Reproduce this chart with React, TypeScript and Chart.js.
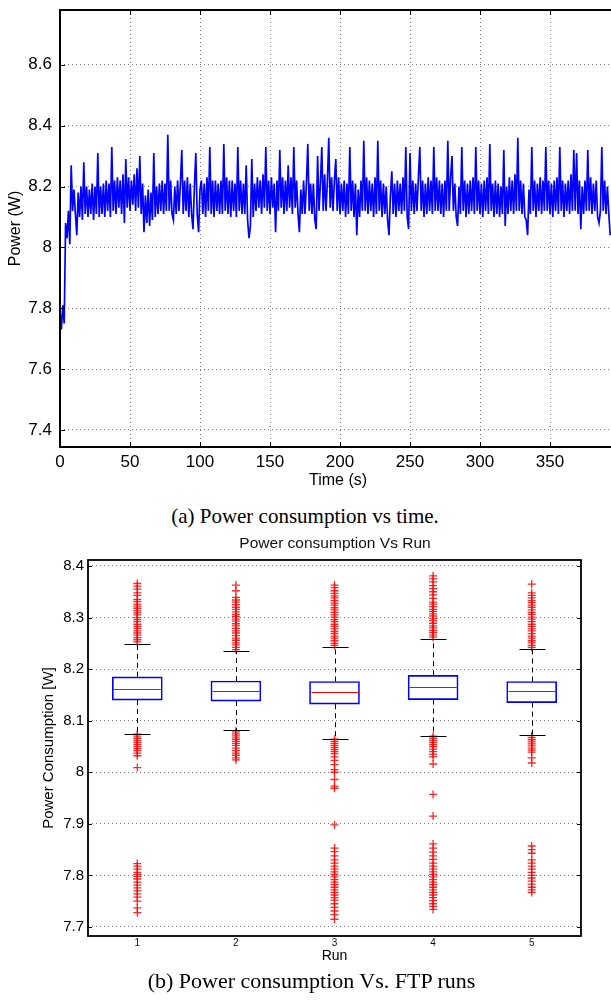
import React, { useEffect, useRef } from 'react';
import { Chart, registerables } from 'chart.js';

Chart.register(...registerables);

// ---------- (a) Power consumption vs time (1 sample per second) ----------
const TIME_STEP_S = 1;
const POWER_W = [
  7.79, 7.73, 7.81, 7.75, 8.08, 8.03, 8.12, 8.01, 8.27, 8.12,
  8.19, 8.11, 8.04, 8.18, 8.10, 8.20, 8.09, 8.28, 8.11, 8.20,
  8.10, 8.19, 8.11, 8.21, 8.09, 8.20, 8.11, 8.31, 8.10, 8.20,
  8.11, 8.21, 8.10, 8.22, 8.12, 8.21, 8.10, 8.33, 8.12, 8.22,
  8.11, 8.23, 8.13, 8.22, 8.11, 8.24, 8.08, 8.29, 8.13, 8.23,
  8.12, 8.22, 8.14, 8.24, 8.12, 8.26, 8.13, 8.30, 8.11, 8.21,
  8.05, 8.17, 8.08, 8.19, 8.07, 8.18, 8.09, 8.31, 8.10, 8.20,
  8.11, 8.21, 8.12, 8.22, 8.11, 8.21, 8.12, 8.37, 8.12, 8.22,
  8.11, 8.09, 8.20, 8.11, 8.22, 8.12, 8.21, 8.32, 8.11, 8.22,
  8.12, 8.23, 8.10, 8.21, 8.11, 8.06, 8.20, 8.31, 8.11, 8.05,
  8.19, 8.22, 8.11, 8.21, 8.10, 8.23, 8.12, 8.33, 8.11, 8.22,
  8.10, 8.22, 8.12, 8.21, 8.11, 8.22, 8.11, 8.34, 8.12, 8.23,
  8.11, 8.22, 8.10, 8.22, 8.12, 8.21, 8.10, 8.33, 8.12, 8.22,
  8.11, 8.21, 8.11, 8.27, 8.09, 8.03, 8.07, 8.29, 8.10, 8.21,
  8.12, 8.23, 8.13, 8.22, 8.11, 8.24, 8.13, 8.33, 8.12, 8.22,
  8.11, 8.23, 8.13, 8.21, 8.05, 8.22, 8.12, 8.32, 8.13, 8.23,
  8.11, 8.22, 8.12, 8.27, 8.13, 8.23, 8.11, 8.33, 8.13, 8.22,
  8.11, 8.05, 8.19, 8.11, 8.22, 8.11, 8.21, 8.34, 8.12, 8.21,
  8.11, 8.21, 8.09, 8.06, 8.30, 8.12, 8.21, 8.33, 8.12, 8.24,
  8.12, 8.22, 8.36, 8.13, 8.23, 8.12, 8.22, 8.29, 8.12, 8.23,
  8.11, 8.21, 8.12, 8.22, 8.10, 8.21, 8.11, 8.33, 8.12, 8.22,
  8.10, 8.21, 8.04, 8.19, 8.10, 8.22, 8.12, 8.35, 8.12, 8.23,
  8.11, 8.22, 8.12, 8.21, 8.10, 8.23, 8.11, 8.35, 8.12, 8.22,
  8.10, 8.21, 8.11, 8.20, 8.09, 8.04, 8.17, 8.25, 8.11, 8.21,
  8.10, 8.22, 8.12, 8.21, 8.11, 8.23, 8.12, 8.33, 8.10, 8.06,
  8.31, 8.12, 8.22, 8.11, 8.21, 8.12, 8.23, 8.33, 8.12, 8.22,
  8.10, 8.21, 8.11, 8.23, 8.12, 8.22, 8.11, 8.33, 8.12, 8.23,
  8.12, 8.22, 8.11, 8.21, 8.10, 8.22, 8.12, 8.35, 8.12, 8.23,
  8.30, 8.12, 8.21, 8.10, 8.07, 8.20, 8.11, 8.33, 8.12, 8.22,
  8.10, 8.21, 8.11, 8.22, 8.12, 8.23, 8.11, 8.33, 8.12, 8.22,
  8.11, 8.21, 8.10, 8.22, 8.12, 8.23, 8.11, 8.34, 8.12, 8.21,
  8.10, 8.22, 8.11, 8.21, 8.10, 8.20, 8.11, 8.32, 8.07, 8.20,
  8.11, 8.23, 8.12, 8.22, 8.11, 8.24, 8.12, 8.36, 8.12, 8.22,
  8.11, 8.21, 8.10, 8.09, 8.04, 8.19, 8.11, 8.33, 8.12, 8.22,
  8.10, 8.21, 8.12, 8.23, 8.11, 8.22, 8.12, 8.33, 8.12, 8.22,
  8.11, 8.21, 8.10, 8.22, 8.12, 8.23, 8.11, 8.33, 8.12, 8.22,
  8.10, 8.21, 8.12, 8.22, 8.11, 8.24, 8.12, 8.32, 8.12, 8.31,
  8.11, 8.22, 8.06, 8.20, 8.11, 8.22, 8.12, 8.32, 8.12, 8.23,
  8.11, 8.21, 8.12, 8.22, 8.10, 8.08, 8.12, 8.33, 8.12, 8.22,
  8.11, 8.20, 8.11, 8.04,
];
const TIME_MIN = 0;
const TIME_MAX = 397.14;
const TIME_TICK_STEP = 50;
const POWER_MIN = 7.344;
const POWER_MAX = 8.78;
const POWER_TICK_STEP = 0.2;

// ---------- (b) Power consumption Vs Run (box plot) ----------
const RUNS = ['1', '2', '3', '4', '5'];
const WHISKER_LO = [8.075, 8.081, 8.065, 8.071, 8.072];
const Q1 = [8.140, 8.138, 8.132, 8.141, 8.135];
const MEDIAN = [8.162, 8.158, 8.155, 8.165, 8.157];
const Q3 = [8.185, 8.177, 8.176, 8.188, 8.176];
const WHISKER_HI = [8.249, 8.235, 8.243, 8.258, 8.239];

const OUTLIERS_RUN1 = [
  8.253, 8.257, 8.261, 8.266, 8.270, 8.274, 8.279, 8.283, 8.287, 8.292, 8.296, 8.300, 8.305,
  8.309, 8.313, 8.318, 8.322, 8.326, 8.331, 8.335, 8.343, 8.348, 8.355, 8.361, 8.366,
  8.074, 8.070, 8.066, 8.062, 8.058, 8.054, 8.050, 8.046, 8.042, 8.037, 8.032, 8.009,
  7.823, 7.818, 7.812, 7.806, 7.802, 7.798, 7.793, 7.787, 7.781, 7.776, 7.770, 7.764,
  7.758, 7.750, 7.737, 7.728,
];
const OUTLIERS_RUN2 = [
  8.238, 8.242, 8.247, 8.251, 8.256, 8.260, 8.265, 8.270, 8.274, 8.279, 8.284, 8.288, 8.293,
  8.297, 8.302, 8.306, 8.311, 8.316, 8.320, 8.325, 8.330, 8.334, 8.339, 8.352, 8.363,
  8.080, 8.076, 8.072, 8.068, 8.064, 8.060, 8.056, 8.052, 8.047, 8.042, 8.037, 8.033,
  8.028, 8.024,
];
const OUTLIERS_RUN3 = [
  8.246, 8.250, 8.255, 8.260, 8.264, 8.269, 8.273, 8.278, 8.283, 8.287, 8.292, 8.296, 8.301,
  8.305, 8.310, 8.315, 8.319, 8.324, 8.328, 8.333, 8.338, 8.342, 8.347, 8.352, 8.358, 8.363,
  8.064, 8.060, 8.056, 8.052, 8.048, 8.044, 8.040, 8.036, 8.030, 8.023, 8.015, 8.005, 8.000,
  7.986, 7.973, 7.969, 7.898,
  7.853, 7.846, 7.838, 7.830, 7.824, 7.818, 7.812, 7.807, 7.802, 7.797, 7.792, 7.787, 7.782,
  7.777, 7.772, 7.767, 7.762, 7.757, 7.752, 7.745, 7.738, 7.731, 7.724, 7.715,
];
const OUTLIERS_RUN4 = [
  8.262, 8.266, 8.271, 8.275, 8.280, 8.284, 8.289, 8.294, 8.298, 8.303, 8.307, 8.312, 8.316,
  8.321, 8.326, 8.330, 8.337, 8.344, 8.350, 8.356, 8.362, 8.369, 8.375, 8.381,
  8.070, 8.066, 8.062, 8.058, 8.054, 8.050, 8.045, 8.040, 8.035, 8.030, 8.016, 7.957, 7.915,
  7.861, 7.853, 7.845, 7.838, 7.831, 7.824, 7.818, 7.812, 7.807, 7.802, 7.797, 7.792, 7.787,
  7.782, 7.777, 7.772, 7.767, 7.762, 7.757, 7.751, 7.745, 7.740, 7.734,
];
const OUTLIERS_RUN5 = [
  8.242, 8.246, 8.251, 8.255, 8.260, 8.264, 8.269, 8.274, 8.278, 8.283, 8.287, 8.292, 8.297,
  8.301, 8.306, 8.310, 8.315, 8.320, 8.324, 8.329, 8.333, 8.338, 8.343, 8.348, 8.365,
  8.071, 8.067, 8.063, 8.059, 8.055, 8.051, 8.047, 8.043, 8.039, 8.028, 8.018,
  7.857, 7.850, 7.843, 7.830, 7.824, 7.818, 7.812, 7.806, 7.800, 7.795, 7.789, 7.783, 7.777,
  7.772, 7.767,
];
const OUTLIERS = [OUTLIERS_RUN1, OUTLIERS_RUN2, OUTLIERS_RUN3, OUTLIERS_RUN4, OUTLIERS_RUN5];
const RUN_POWER_MIN = 7.6825;
const RUN_POWER_MAX = 8.4116;
const RUN_TICK_STEP = 0.1;

const SANS = "'Liberation Sans', Arial, sans-serif";
const SERIF = "'Liberation Serif', 'Times New Roman', serif";
const fmt = (v: number) => Number(v).toFixed(1).replace(/\.0$/, '');

// frame + inward tick marks (MATLAB style)
const framePlugin = {
  id: 'frame',
  afterDraw(chart: any, _args: any, opts: any) {
    const { ctx, chartArea: a } = chart;
    const len = opts.tickLen ?? 5;
    ctx.save();
    ctx.strokeStyle = '#000';
    ctx.lineWidth = 1;
    if (opts.xTicks) {
      const sx = chart.scales.x;
      sx.ticks.forEach((t: any) => {
        const px = Math.round(sx.getPixelForValue(t.value)) + 0.5;
        ctx.beginPath();
        ctx.moveTo(px, a.bottom); ctx.lineTo(px, a.bottom - len);
        ctx.moveTo(px, a.top); ctx.lineTo(px, a.top + len);
        ctx.stroke();
      });
    }
    if (opts.yTicks) {
      const sy = chart.scales.y;
      sy.ticks.forEach((t: any) => {
        const py = Math.round(sy.getPixelForValue(t.value)) + 0.5;
        ctx.beginPath();
        ctx.moveTo(a.left, py); ctx.lineTo(a.left + len, py);
        ctx.moveTo(a.right, py); ctx.lineTo(a.right - len, py);
        ctx.stroke();
      });
    }
    ctx.lineWidth = opts.lineWidth ?? 1.5;
    ctx.strokeRect(a.left, a.top, a.right - a.left, a.bottom - a.top);
    ctx.restore();
  },
};

// medians, whiskers and caps of the box plot
const boxDetailPlugin = {
  id: 'boxDetail',
  afterDatasetsDraw(chart: any, _args: any, opts: any) {
    const { ctx } = chart;
    const sx = chart.scales.x;
    const sy = chart.scales.y;
    const boxW = opts.boxWidth ?? 50;
    const capW = opts.capWidth ?? 26;
    ctx.save();
    RUNS.forEach((_r, i) => {
      const cx = Math.round(sx.getPixelForValue(i)) + 0.5;
      const yLo = sy.getPixelForValue(WHISKER_LO[i]);
      const yQ1 = sy.getPixelForValue(Q1[i]);
      const yMed = Math.round(sy.getPixelForValue(MEDIAN[i])) + 0.5;
      const yQ3 = sy.getPixelForValue(Q3[i]);
      const yHi = sy.getPixelForValue(WHISKER_HI[i]);
      ctx.lineWidth = 1;
      ctx.strokeStyle = '#000';
      ctx.setLineDash([5, 4]);
      ctx.beginPath();
      ctx.moveTo(cx, yQ3); ctx.lineTo(cx, yHi);
      ctx.moveTo(cx, yQ1); ctx.lineTo(cx, yLo);
      ctx.stroke();
      ctx.setLineDash([]);
      ctx.beginPath();
      const yh = Math.round(yHi) + 0.5;
      const yl = Math.round(yLo) + 0.5;
      ctx.moveTo(cx - capW / 2, yh); ctx.lineTo(cx + capW / 2, yh);
      ctx.moveTo(cx - capW / 2, yl); ctx.lineTo(cx + capW / 2, yl);
      ctx.stroke();
      ctx.strokeStyle = '#ff0000';
      ctx.lineWidth = 1.2;
      ctx.beginPath();
      ctx.moveTo(cx - boxW / 2 + 1, yMed); ctx.lineTo(cx + boxW / 2 - 1, yMed);
      ctx.stroke();
    });
    ctx.restore();
  },
};

function TimeChart() {
  const ref = useRef<HTMLCanvasElement>(null);
  useEffect(() => {
    const chart = new Chart(ref.current as HTMLCanvasElement, {
      type: 'line',
      data: {
        datasets: [
          {
            data: POWER_W.map((v, i) => ({ x: i * TIME_STEP_S, y: v })),
            borderColor: '#0000ff',
            borderWidth: 1.7,
            pointRadius: 0,
            tension: 0,
            fill: false,
          },
        ],
      },
      options: {
        animation: false,
        responsive: false,
        events: [],
        layout: { padding: { top: 10, left: 0, right: 0, bottom: 0 } },
        plugins: {
          legend: { display: false },
          tooltip: { enabled: false },
          frame: { xTicks: true, yTicks: true, tickLen: 5, lineWidth: 2 },
        } as any,
        scales: {
          x: {
            type: 'linear',
            min: TIME_MIN,
            max: TIME_MAX,
            afterFit: (s: any) => { s.height = 48; s.paddingLeft = 0; s.paddingRight = 0; },
            grid: { color: '#7a7a7a', lineWidth: 1, drawTicks: false },
            border: { display: false, dash: [1, 3] },
            ticks: {
              stepSize: TIME_TICK_STEP,
              includeBounds: false,
              maxRotation: 0,
              padding: 5,
              color: '#000',
              font: { family: SANS, size: 17 },
              callback: (v: any) => String(v),
            },
            title: {
              display: true,
              text: 'Time (s)',
              color: '#000',
              font: { family: SANS, size: 16 },
              padding: { top: 0, bottom: 5 },
            },
          },
          y: {
            type: 'linear',
            min: POWER_MIN,
            max: POWER_MAX,
            afterFit: (s: any) => { s.width = 60; s.paddingTop = 0; s.paddingBottom = 0; },
            grid: { color: '#7a7a7a', lineWidth: 1, drawTicks: false },
            border: { display: false, dash: [1, 3] },
            ticks: {
              stepSize: POWER_TICK_STEP,
              includeBounds: false,
              padding: 8,
              color: '#000',
              font: { family: SANS, size: 17 },
              callback: (v: any) => fmt(v),
            },
            title: {
              display: true,
              text: 'Power (W)',
              color: '#000',
              font: { family: SANS, size: 16 },
              padding: { top: 6, bottom: 0 },
            },
          },
        },
      } as any,
      plugins: [framePlugin],
    });
    return () => chart.destroy();
  }, []);
  return <canvas ref={ref} width={616} height={495} style={{ display: 'block' }} />;
}

function RunChart() {
  const ref = useRef<HTMLCanvasElement>(null);
  useEffect(() => {
    const chart = new Chart(ref.current as HTMLCanvasElement, {
      type: 'bar',
      data: {
        labels: RUNS,
        datasets: [
          {
            type: 'bar',
            data: RUNS.map((_r, i) => [Q1[i], Q3[i]]),
            backgroundColor: 'rgba(255,255,255,0)',
            borderColor: '#0000ff',
            borderWidth: 1,
            borderSkipped: false,
            barThickness: 50,
            order: 2,
          },
          ...OUTLIERS.map((vals, i) => ({
            type: 'scatter',
            data: vals.map((v) => ({ x: RUNS[i], y: v })),
            pointStyle: 'cross',
            pointRadius: 4,
            pointBorderWidth: 1.3,
            borderColor: 'rgba(255,0,0,0.85)',
            backgroundColor: 'rgba(255,0,0,0.85)',
            showLine: false,
            order: 1,
          })),
        ],
      },
      options: {
        animation: false,
        responsive: false,
        events: [],
        layout: { padding: { top: 35, left: 0, right: 30, bottom: 0 } },
        plugins: {
          legend: { display: false },
          tooltip: { enabled: false },
          title: { display: false },
          frame: { xTicks: false, yTicks: true, tickLen: 4, lineWidth: 1.8 },
          boxDetail: { boxWidth: 50, capWidth: 26 },
        } as any,
        scales: {
          x: {
            type: 'category',
            offset: true,
            afterFit: (s: any) => { s.height = 34; s.paddingLeft = 0; s.paddingRight = 0; },
            grid: { display: false, drawTicks: false },
            border: { display: false },
            ticks: {
              padding: 1,
              color: '#111',
              font: { family: SANS, size: 10 },
            },
            title: {
              display: true,
              text: 'Run',
              color: '#000',
              font: { family: SANS, size: 14 },
              padding: { top: 0, bottom: 5.6 },
            },
          },
          y: {
            type: 'linear',
            min: RUN_POWER_MIN,
            max: RUN_POWER_MAX,
            afterFit: (s: any) => { s.width = 88; s.paddingTop = 0; s.paddingBottom = 0; },
            grid: { color: '#7a7a7a', lineWidth: 1, drawTicks: false },
            border: { display: false, dash: [1, 3] },
            ticks: {
              stepSize: RUN_TICK_STEP,
              includeBounds: false,
              padding: 4,
              color: '#000',
              font: { family: SANS, size: 15 },
              callback: (v: any) => fmt(v),
            },
            title: {
              display: true,
              text: 'Power Consumption [W]',
              color: '#000',
              font: { family: SANS, size: 15 },
              padding: { top: 40, bottom: 0 },
            },
          },
        },
      } as any,
      plugins: [framePlugin, boxDetailPlugin],
    });
    return () => chart.destroy();
  }, []);
  return <canvas ref={ref} width={611} height={445} style={{ display: 'block' }} />;
}

const captionStyle: React.CSSProperties = {
  position: 'absolute',
  transform: 'translateX(-50%)',
  whiteSpace: 'nowrap',
  fontFamily: SERIF,
  fontSize: 21,
  lineHeight: '24px',
  color: '#000',
};

export default function App() {
  return (
    <div
      style={{
        position: 'absolute',
        left: 0,
        top: 0,
        width: 611,
        height: 1000,
        overflow: 'hidden',
        background: '#fff',
      }}
    >
      <div style={{ position: 'absolute', left: 0, top: 0 }}>
        <TimeChart />
      </div>
      <div style={{ ...captionStyle, left: 305, top: 504 }}>(a) Power consumption vs time.</div>
      <div style={{ position: 'absolute', left: 0, top: 525 }}>
        <RunChart />
      </div>
      <div
        style={{
          position: 'absolute',
          left: 335,
          top: 534,
          transform: 'translateX(-50%)',
          whiteSpace: 'nowrap',
          fontFamily: SANS,
          fontSize: 15.5,
          lineHeight: '18px',
          color: '#111',
        }}
      >
        Power consumption Vs Run
      </div>
      <div style={{ ...captionStyle, fontSize: 22, left: 311.5, top: 969 }}>
        (b) Power consumption Vs. FTP runs
      </div>
    </div>
  );
}
